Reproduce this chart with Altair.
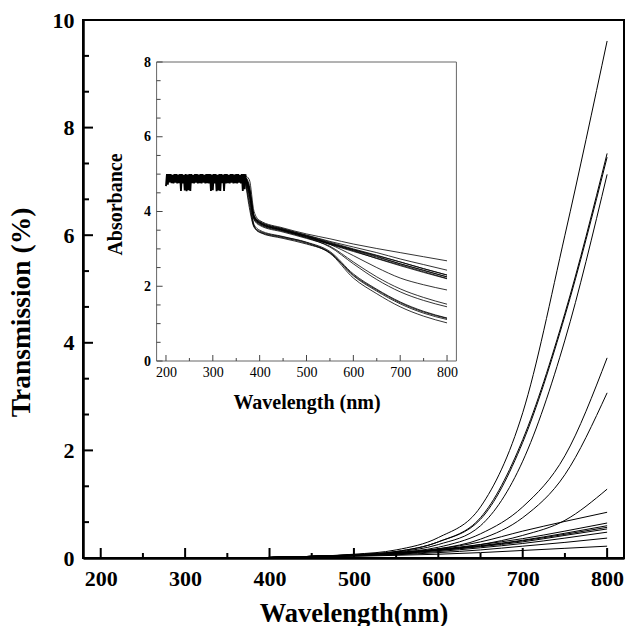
import altair as alt
import pandas as pd

FONT = "Liberation Serif"

# ---------------- main chart data (Transmission %) ----------------
main_wl = [375, 400, 450, 500, 550, 600, 650, 700, 750, 800]
main_T = [
    [0.0, 0.01, 0.03, 0.07, 0.15, 0.38, 0.95, 2.70, 6.00, 9.61],
    [0.0, 0.01, 0.03, 0.06, 0.12, 0.30, 0.75, 2.20, 4.55, 7.52],
    [0.0, 0.01, 0.03, 0.06, 0.12, 0.30, 0.72, 2.15, 4.50, 7.45],
    [0.0, 0.01, 0.03, 0.06, 0.11, 0.25, 0.60, 1.80, 4.05, 7.13],
    [0.0, 0.01, 0.03, 0.05, 0.10, 0.20, 0.45, 0.95, 1.90, 3.72],
    [0.0, 0.01, 0.03, 0.05, 0.09, 0.17, 0.35, 0.75, 1.55, 3.07],
    [0.0, 0.01, 0.03, 0.05, 0.09, 0.15, 0.25, 0.42, 0.70, 1.28],
    [0.0, 0.01, 0.03, 0.05, 0.10, 0.17, 0.30, 0.50, 0.68, 0.85],
    [0.0, 0.01, 0.03, 0.05, 0.09, 0.16, 0.25, 0.36, 0.50, 0.65],
    [0.0, 0.01, 0.03, 0.05, 0.08, 0.15, 0.23, 0.33, 0.46, 0.60],
    [0.0, 0.01, 0.03, 0.05, 0.08, 0.14, 0.22, 0.32, 0.44, 0.57],
    [0.0, 0.01, 0.03, 0.05, 0.08, 0.14, 0.21, 0.30, 0.42, 0.54],
    [0.0, 0.01, 0.03, 0.05, 0.07, 0.12, 0.19, 0.27, 0.37, 0.48],
    [0.0, 0.01, 0.02, 0.04, 0.06, 0.10, 0.15, 0.22, 0.29, 0.37],
    [0.0, 0.01, 0.02, 0.03, 0.05, 0.07, 0.10, 0.14, 0.18, 0.22],
]
main_x_major = [200, 300, 400, 500, 600, 700, 800]
main_x_minor = [250, 350, 450, 550, 650, 750]
main_y_major = [0, 2, 4, 6, 8, 10]
main_y_minor = [0.667, 1.333, 2.667, 3.333, 4.667, 5.333, 6.667, 7.333, 8.667, 9.333]
main_xlim = [179, 820]
main_ylim = [0, 10]

# ---------------- inset data (Absorbance) ----------------
inset_wl = [368, 378, 388, 400, 450, 500, 550, 600, 650, 700, 750, 800]
inset_A = [
    [4.95, 4.30, 3.62, 3.45, 3.30, 3.15, 2.88, 2.22, 1.80, 1.45, 1.20, 1.02],
    [4.95, 4.20, 3.60, 3.47, 3.32, 3.17, 2.90, 2.28, 1.87, 1.53, 1.28, 1.11],
    [4.95, 4.10, 3.58, 3.44, 3.28, 3.13, 2.90, 2.30, 1.90, 1.56, 1.31, 1.14],
    [4.95, 4.40, 3.65, 3.50, 3.33, 3.18, 2.93, 2.33, 1.92, 1.58, 1.33, 1.15],
    [4.95, 4.50, 3.80, 3.65, 3.47, 3.30, 3.05, 2.60, 2.18, 1.85, 1.62, 1.45],
    [4.95, 4.45, 3.78, 3.63, 3.45, 3.28, 3.07, 2.65, 2.25, 1.93, 1.70, 1.52],
    [4.95, 4.55, 3.85, 3.68, 3.50, 3.33, 3.12, 2.82, 2.50, 2.22, 2.04, 1.90],
    [4.95, 4.60, 3.85, 3.70, 3.50, 3.33, 3.14, 2.95, 2.74, 2.55, 2.37, 2.20],
    [4.95, 4.50, 3.82, 3.67, 3.48, 3.30, 3.12, 2.93, 2.75, 2.57, 2.39, 2.21],
    [4.95, 4.60, 3.87, 3.72, 3.52, 3.35, 3.16, 2.98, 2.80, 2.60, 2.42, 2.25],
    [4.95, 4.55, 3.84, 3.69, 3.50, 3.32, 3.13, 2.96, 2.78, 2.60, 2.43, 2.25],
    [4.95, 4.65, 3.88, 3.72, 3.53, 3.36, 3.18, 3.00, 2.83, 2.65, 2.47, 2.30],
    [4.95, 4.60, 3.86, 3.70, 3.50, 3.34, 3.15, 2.98, 2.82, 2.65, 2.47, 2.30],
    [4.95, 4.70, 3.90, 3.74, 3.54, 3.37, 3.20, 3.05, 2.90, 2.73, 2.58, 2.43],
    [4.97, 4.85, 4.00, 3.76, 3.56, 3.40, 3.27, 3.13, 3.01, 2.90, 2.79, 2.68],
]
# saturated (noisy) region 200-370 nm
noise_wl = list(range(200, 372, 2))
noise_A = [
    4.68, 5.00, 4.72, 5.00, 4.78, 5.00, 4.76, 4.98, 4.75, 5.00,
    4.77, 5.00, 4.75, 4.99, 4.76, 5.00, 4.55, 5.00, 4.75, 4.98,
    4.56, 5.00, 4.54, 4.99, 4.57, 5.00, 4.55, 5.00, 4.76, 4.98,
    4.75, 5.00, 4.77, 5.00, 4.75, 4.99, 4.76, 5.00, 4.75, 5.00,
    4.77, 4.98, 4.75, 5.00, 4.76, 5.00, 4.75, 5.00, 4.55, 4.99,
    4.57, 5.00, 4.75, 5.00, 4.54, 4.98, 4.56, 5.00, 4.55, 5.00,
    4.76, 4.99, 4.55, 5.00, 4.75, 5.00, 4.76, 4.98, 4.75, 5.00,
    4.77, 5.00, 4.75, 4.99, 4.76, 5.00, 4.75, 5.00, 4.77, 4.98,
    4.75, 5.00, 4.55, 5.00, 4.60, 5.00,
]
inset_x_major = [200, 300, 400, 500, 600, 700, 800]
inset_x_minor = [250, 350, 450, 550, 650, 750]
inset_y_major = [0, 2, 4, 6, 8]
inset_y_minor = [0.5, 1, 1.5, 2.5, 3, 3.5, 4.5, 5, 5.5, 6.5, 7, 7.5]
inset_xlim = [180, 820]
inset_ylim = [0, 8]

# ---------------- layout (pixels) ----------------
W, H = 541, 538
PAD = {"left": 83, "top": 20, "right": 2, "bottom": 68}
INSET_X_RANGE = [73.6, 373.4]
INSET_Y_RANGE = [341, 42]

main_df = pd.DataFrame(
    [{"curve": k, "wl": w, "T": t} for k, row in enumerate(main_T) for w, t in zip(main_wl, row)]
)
inset_df = pd.DataFrame(
    [{"curve": k, "wl": w, "A": a} for k, row in enumerate(inset_A) for w, a in zip(inset_wl, row)]
)
noise_df = pd.DataFrame({"wl": noise_wl, "A": noise_A})

xs = alt.Scale(domain=main_xlim, nice=False, zero=False)
ys = alt.Scale(domain=main_ylim, nice=False, zero=False)

main_x_axis = alt.Axis(
    values=main_x_major, format="d", ticks=False, grid=False,
    domainColor="black", domainWidth=2.5,
    labelFont=FONT, labelFontSize=22, labelFontWeight="bold", labelColor="black",
    labelPadding=10, labelFlush=False,
    title="Wavelength(nm)", titleFont=FONT, titleFontSize=26.5, titleFontWeight="bold",
    titleColor="black", titlePadding=11)
main_y_axis = alt.Axis(
    values=main_y_major, format="d", ticks=False, grid=False,
    domainColor="black", domainWidth=2.5,
    labelFont=FONT, labelFontSize=22, labelFontWeight="bold", labelColor="black",
    labelPadding=9, labelFlush=False,
    title="Transmission (%)", titleFont=FONT, titleFontSize=27.5, titleFontWeight="bold",
    titleColor="black", titlePadding=17, titleY=292)

main_lines = alt.Chart(main_df).mark_line(
    color="black", strokeWidth=1, interpolate="monotone"
).encode(
    x=alt.X("wl:Q", scale=xs, axis=main_x_axis),
    y=alt.Y("T:Q", scale=ys, axis=main_y_axis),
    detail="curve:N",
)

def xticks(vals, scale, axis, y0, length, color, width):
    return alt.Chart(pd.DataFrame({"wl": vals})).mark_rule(color=color, strokeWidth=width).encode(
        x=alt.X("wl:Q", scale=scale, axis=axis),
        y=alt.value(y0), y2=alt.value(y0 - length),
    )

def yticks(vals, scale, axis, field, x0, length, color, width):
    return alt.Chart(pd.DataFrame({field: vals})).mark_rule(color=color, strokeWidth=width).encode(
        y=alt.Y(f"{field}:Q", scale=scale, axis=axis),
        x=alt.value(x0), x2=alt.value(x0 + length),
    )

main_layer = alt.layer(
    main_lines,
    xticks(main_x_major, xs, main_x_axis, H, 10, "black", 2),
    xticks(main_x_minor, xs, main_x_axis, H, 5, "black", 2),
    yticks(main_y_major, ys, main_y_axis, "T", 0, 10, "black", 2),
    yticks(main_y_minor, ys, main_y_axis, "T", 0, 6, "black", 2),
)

# ---------------- inset ----------------
ixs = alt.Scale(domain=inset_xlim, range=INSET_X_RANGE, nice=False, zero=False)
iys = alt.Scale(domain=inset_ylim, range=INSET_Y_RANGE, nice=False, zero=False)

inset_x_axis = alt.Axis(
    orient="bottom", offset=-(H - INSET_Y_RANGE[0]),
    values=inset_x_major, format="d", ticks=False, grid=False, domain=False,
    labelFont=FONT, labelFontSize=14, labelFontWeight="normal", labelColor="black",
    labelPadding=4, labelFlush=False,
    title="Wavelength (nm)", titleFont=FONT, titleFontSize=20, titleFontWeight="bold",
    titleColor="black", titlePadding=13)
inset_y_axis = alt.Axis(
    orient="left", offset=-INSET_X_RANGE[0],
    values=inset_y_major, format="d", ticks=False, grid=False, domain=False,
    labelFont=FONT, labelFontSize=14, labelFontWeight="bold", labelColor="black",
    labelPadding=6, labelFlush=False,
    title="Absorbance", titleFont=FONT, titleFontSize=20, titleFontWeight="bold",
    titleColor="black", titlePadding=18, titleY=184)

frame_df = pd.DataFrame({"wl": [inset_xlim[0]], "wl2": [inset_xlim[1]],
                         "A": [inset_ylim[0]], "A2": [inset_ylim[1]]})
inset_frame = alt.Chart(frame_df).mark_rect(fill=None, stroke="#666666", strokeWidth=1).encode(
    x=alt.X("wl:Q", scale=ixs, axis=inset_x_axis), x2="wl2",
    y=alt.Y("A:Q", scale=iys, axis=inset_y_axis), y2="A2",
)

inset_lines = alt.Chart(inset_df).mark_line(
    color="black", strokeWidth=0.8, interpolate="monotone"
).encode(
    x=alt.X("wl:Q", scale=ixs, axis=inset_x_axis),
    y=alt.Y("A:Q", scale=iys, axis=inset_y_axis),
    detail="curve:N",
)

inset_noise = alt.Chart(noise_df).mark_line(color="black", strokeWidth=1.8).encode(
    x=alt.X("wl:Q", scale=ixs, axis=inset_x_axis),
    y=alt.Y("A:Q", scale=iys, axis=inset_y_axis),
)

inset_layer = alt.layer(
    inset_frame,
    inset_lines,
    inset_noise,
    xticks(inset_x_major, ixs, inset_x_axis, INSET_Y_RANGE[0], 6, "#444444", 1),
    xticks(inset_x_minor, ixs, inset_x_axis, INSET_Y_RANGE[0], 3, "#444444", 1),
    yticks(inset_y_major, iys, inset_y_axis, "A", INSET_X_RANGE[0], 6, "#444444", 1),
    yticks(inset_y_minor, iys, inset_y_axis, "A", INSET_X_RANGE[0], 4, "#444444", 1),
)

chart = alt.layer(main_layer, inset_layer).resolve_scale(
    x="independent", y="independent"
).properties(
    width=W, height=H,
    autosize=alt.AutoSizeParams(type="none"),
    padding=PAD,
    background="white",
).configure_view(stroke="black", strokeWidth=2)

chart.save("out.html", embed_options={"renderer": "svg", "actions": False})
